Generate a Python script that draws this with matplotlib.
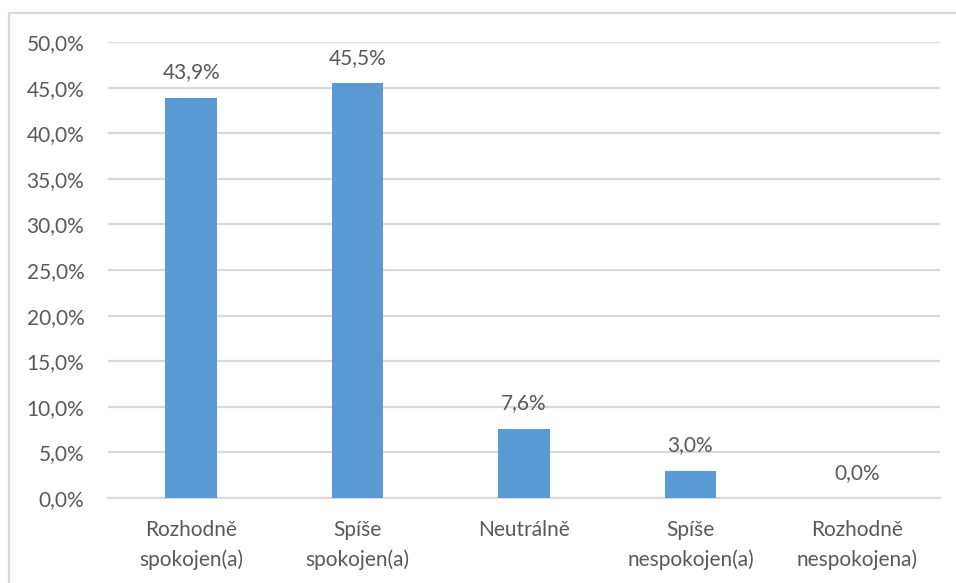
import matplotlib.pyplot as plt
from matplotlib.lines import Line2D

categories = ["Rozhodně\nspokojen(a)", "Spíše\nspokojen(a)", "Neutrálně",
              "Spíše\nnespokojen(a)", "Rozhodně\nnespokojena)"]
values = [43.9, 45.5, 7.6, 3.0, 0.0]
y_ticks = [0, 5, 10, 15, 20, 25, 30, 35, 40, 45, 50]

plt.rcParams['font.family'] = ['Lato', 'DejaVu Sans']
text_color = '#595959'
bar_color = '#5B9BD5'
grid_color = '#D9D9D9'
fs = 15

fig = plt.figure(figsize=(9.56, 5.83), dpi=100)
ax = fig.add_axes([108 / 956, 1 - 498 / 583, 832 / 956, 456 / 583])

x = range(len(categories))
bars = ax.bar(x, values, width=0.31, color=bar_color, zorder=3)

for rect, v in zip(bars, values):
    ax.annotate(f"{v:.1f}%".replace('.', ','),
                (rect.get_x() + rect.get_width() / 2, v),
                xytext=(0, 11), textcoords='offset points',
                ha='center', va='bottom', fontsize=fs, color=text_color)

ax.set_xlim(-0.5, len(categories) - 0.5)
ax.set_ylim(0, 50)
ax.set_yticks(y_ticks)
ax.set_yticklabels([f"{t:.1f}%".replace('.', ',') for t in y_ticks])
ax.set_xticks(list(x))
ax.set_xticklabels(categories, linespacing=1.55)

ax.tick_params(axis='y', length=0, pad=17, labelsize=fs, labelcolor=text_color)
ax.tick_params(axis='x', length=0, pad=16, labelsize=fs, labelcolor=text_color)
ax.grid(axis='y', color=grid_color, linewidth=1.6, zorder=0)
ax.set_axisbelow(True)
for side in ['top', 'right', 'left']:
    ax.spines[side].set_visible(False)
ax.spines['bottom'].set_color(grid_color)
ax.spines['bottom'].set_linewidth(1.6)

# light frame around the chart area
fx0, fy0 = 8.5 / 956, 1 - 13 / 583
fig.add_artist(Line2D([fx0, 1], [fy0, fy0], transform=fig.transFigure,
                      color=grid_color, linewidth=1.6))
fig.add_artist(Line2D([fx0, fx0], [0, fy0], transform=fig.transFigure,
                      color=grid_color, linewidth=1.6))

fig.savefig('out.png', dpi=100)
